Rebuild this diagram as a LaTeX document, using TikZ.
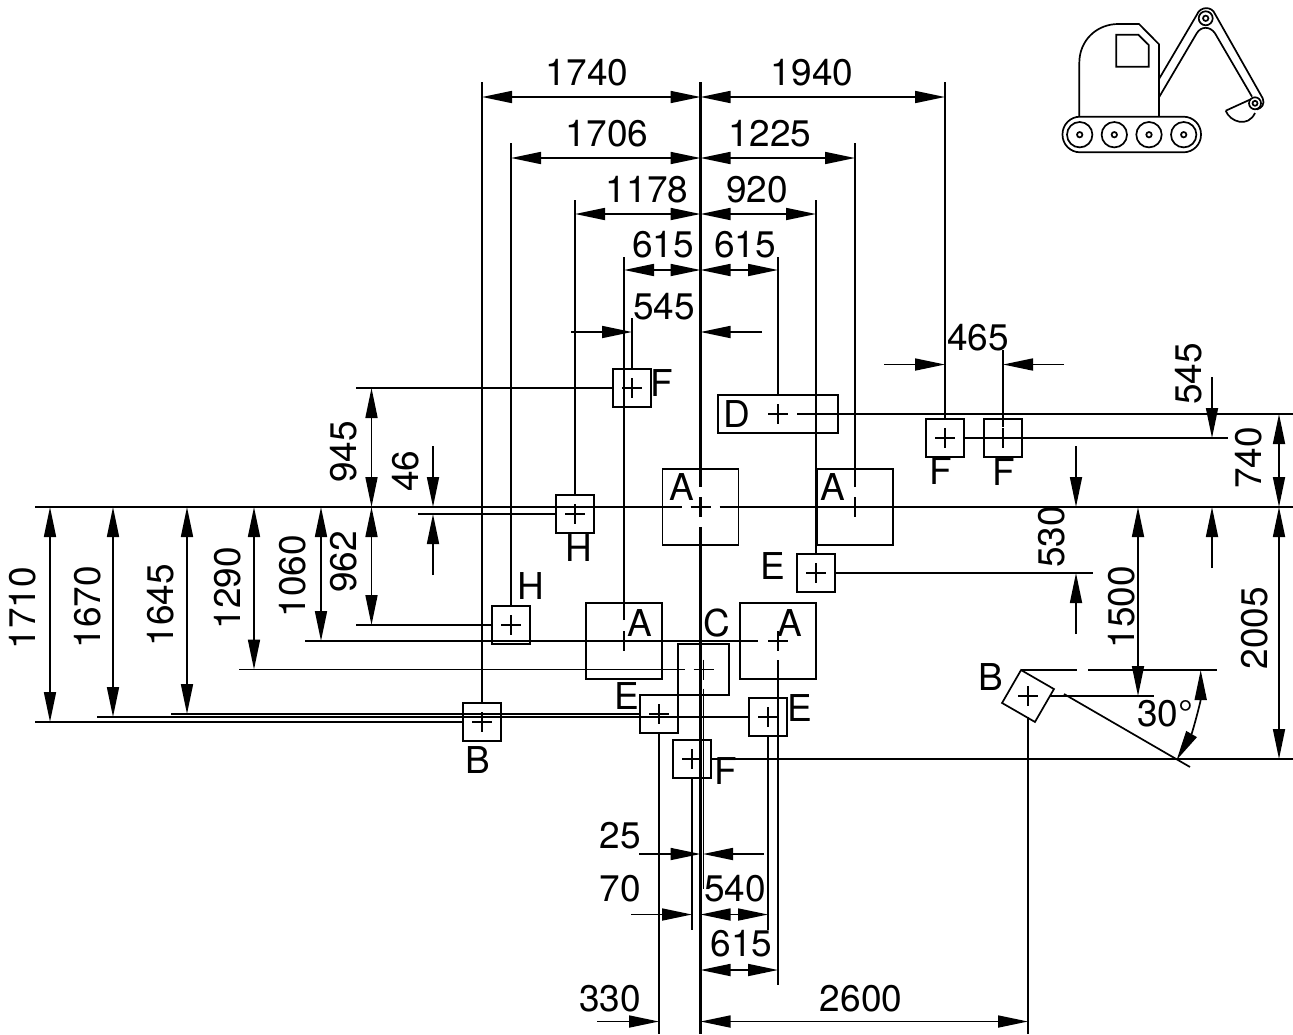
\documentclass[tikz,border=0pt]{standalone}
\usepackage{fontspec}
\setmainfont{TeX Gyre Heros}
\usetikzlibrary{arrows.meta}

\begin{document}
\begin{tikzpicture}[x=1pt, y=-1pt, node distance=0pt, line width=1.7pt]
  \tikzstyle{box} = [rectangle, draw, inner sep=0pt, outer sep=0pt, minimum size=38pt]
  \tikzstyle{marked} = [box, path picture={\draw (path picture bounding box.center) +(-10,0) -- +(10,0) +(0,-10) -- +(0,10);}]
  \tikzstyle{tag} = [inner sep=0pt, font=\fontsize{37}{37}\selectfont]
  \tikzstyle{tagv} = [tag, rotate=90]
  \tikzstyle{main} = [line width=2.8pt]
  \tikzstyle{dim} = [{Triangle[length=30pt,width=12pt]}-{Triangle[length=30pt,width=12pt]}]
  \tikzstyle{lead} = [-{Triangle[length=30pt,width=12pt]}]
\useasboundingbox (0,0) rectangle (1293,1034);
% boxes
\node[box, minimum size=76pt] (aone) at (700.5,507) {};
\node[marked, minimum size=76pt, below of=aone, xshift=154.5](atwo){};
\node[marked, minimum size=76pt, below of=aone, xshift=-76.5, yshift=-134](athree){};
\node[marked, minimum size=76pt, below of=aone, xshift=77.5, yshift=-134](afour){};
\node[marked, minimum size=51pt, below of=aone, xshift=3, yshift=-162.5](cbox){};
\node[marked, minimum width=120pt, below of=aone, xshift=77.5, yshift=93](dbox){};
\node[marked, below of=aone, xshift=115.5, yshift=-66](eone){};
\node[marked, below of=aone, xshift=-41.5, yshift=-207](etwo){};
\node[marked, below of=aone, xshift=67.5, yshift=-210](ethree){};
\node[marked, below of=aone, xshift=-68.5, yshift=119](fone){};
\node[marked, below of=aone, xshift=244.5, yshift=69](ftwo){};
\node[marked, below of=aone, xshift=302.5, yshift=69](fthree){};
\node[marked, below of=aone, xshift=-8.5, yshift=-252](ffour){};
\node[marked, below of=aone, xshift=-125.5, yshift=-7](hone){};
\node[marked, below of=aone, xshift=-189.5, yshift=-118](htwo){};
\node[marked, below of=aone, xshift=-218.5, yshift=-215](bone){};
\node[box, below of=aone, xshift=327.5, yshift=-189, rotate=-30](btwo){};
% box letters
\node[tag, below of=aone, xshift=-19, yshift=20](la1){A};
\node[tag, below of=atwo, xshift=-22, yshift=20](la2){A};
\node[tag, below of=athree, xshift=16, yshift=18](la3){A};
\node[tag, below of=afour, xshift=12, yshift=18](la4){A};
\node[tag, below of=cbox, xshift=13, yshift=46](lc){C};
\node[tag, below of=dbox, xshift=-41](ld){D};
\node[tag, below of=eone, xshift=-43, yshift=7](le1){E};
\node[tag, below of=etwo, xshift=-32, yshift=18](le2){E};
\node[tag, below of=ethree, xshift=32, yshift=9](le3){E};
\node[tag, below of=fone, xshift=30, yshift=4.5](lf1){F};
\node[tag, below of=ftwo, xshift=-4, yshift=-33](lf2){F};
\node[tag, below of=fthree, xshift=1, yshift=-34](lf3){F};
\node[tag, below of=ffour, xshift=34, yshift=-12](lf4){F};
\node[tag, below of=hone, xshift=4, yshift=-34](lh1){H};
\node[tag, below of=htwo, xshift=20, yshift=39](lh2){H};
\node[tag, below of=bone, xshift=-4, yshift=-38](lb1){B};
\node[tag, below of=btwo, xshift=-37, yshift=19](lb2){B};
% free ends of the lines
\coordinate (exta) at (0,82);
\coordinate (extb) at (0,143);
\coordinate (extc) at (0,200);
\coordinate (extd) at (0,257);
\coordinate (exte) at (0,318);
\coordinate (extf) at (0,350);
\coordinate (extg) at (35,0);
\coordinate (exth) at (97,0);
\coordinate (exti) at (171,0);
\coordinate (extj) at (239,0);
\coordinate (extk) at (305,0);
\coordinate (extl) at (356,0);
\coordinate (extm) at (418,0);
\coordinate (edge) at (1293,1034);
% levels of the dimension lines
\coordinate (dima) at (0,97);
\coordinate (dimb) at (0,158);
\coordinate (dimc) at (0,214);
\coordinate (dimd) at (0,270);
\coordinate (dimh) at (0,914.5);
\coordinate (dimi) at (0,970);
\coordinate (dimj) at (0,1021.5);
\coordinate (dimk) at (50,0);
\coordinate (diml) at (113,0);
\coordinate (dimm) at (187,0);
\coordinate (dimn) at (254,0);
\coordinate (dimo) at (321,0);
\coordinate (dimp) at (371.5,0);
\coordinate (dims) at (1138,0);
\coordinate (dimu) at (1279,0);
% centre lines
\draw[main] (aone |- exta) -- ([yshift=20pt]aone.center);
\draw[main] ([yshift=10pt]aone.center) -- ([yshift=-10pt]aone.center);
\draw[main] ([yshift=-20pt]aone.center) -- (aone |- edge);
\draw[main] (extg |- aone) -- ([xshift=-19pt]aone.center);
\draw[main] ([xshift=-10pt]aone.center) -- ([xshift=10pt]aone.center);
\draw[main] ([xshift=19pt]aone.center) -- (edge |- aone);
% lines going up
\draw (bone.north) -- (bone.north |- exta);
\draw (ftwo.north) -- (ftwo.north |- exta);
\draw (htwo.north) -- (htwo.north |- extb);
\draw ([yshift=20pt]atwo.center) -- (atwo.center |- extb);
\draw (hone.north) -- (hone.north |- extc);
\draw (eone.north) -- (eone.north |- extc);
\draw ([yshift=21pt]athree.center) -- (athree.center |- extd);
\draw (dbox.north) -- (dbox.north |- extd);
\draw (fone.north) -- (fone.north |- exte);
\draw ([yshift=11pt]fthree.center) -- (fthree.center |- extf);
% lines going down
\coordinate (ende) at (0,870);
\coordinate (endf) at (0,930);
\coordinate (endg) at (0,985);
\draw ([yshift=-19pt]cbox.center) -- ([yshift=-19pt]cbox.center |- ende);
\draw (ffour.south) -- (ffour.south |- endf);
\draw (ethree.south) -- (ethree.south |- endf);
\draw ([yshift=-19pt]afour.center) -- (afour.center |- endg);
\draw (etwo.south) -- (etwo.south |- edge);
\draw ([yshift=-21pt]btwo.center) -- (btwo.center |- edge);
% lines going left
\draw (extg |- bone) -- (bone.west);
\draw (exth |- ethree) -- (ethree.west);
\draw (exti |- etwo) -- (etwo.west);
\draw (extj |- cbox) -- ([xshift=-19pt]cbox.center);
\draw (extk |- afour) -- ([xshift=-20pt]afour.center);
\draw (extl |- htwo) -- (htwo.west);
\draw (extl |- fone) -- (fone.west);
\draw (extm |- hone) -- (hone.west);
% lines going right
\coordinate (endh) at (1093,0);
\coordinate (endi) at (1228,0);
\draw ([xshift=19pt]dbox.center) -- (edge |- dbox);
\draw (eone.east) -- (endh |- eone);
\draw (ftwo.east) -- (endi |- ftwo);
\draw (ffour.east) -- (edge |- ffour);
% the 30 degree corner
\coordinate (gapa) at (1077,670);
\coordinate (gapb) at (1088,670);
\coordinate (gapc) at (1217,670);
\coordinate (seta) at (1050,696);
\coordinate (setb) at (1154,696);
\coordinate (slanta) at (1064,694);
\coordinate (slantb) at (1190,767);
\coordinate (arca) at (1200.7,670);
\draw (btwo.north west |- gapa) -- (gapa);
\draw (gapb) -- (gapc);
\draw (seta) -- (setb);
\draw (slanta) -- (slantb);
\draw[dim] (arca) arc[start angle=0, end angle=30, radius=180];
\draw ([xshift=-10pt]btwo.center) -- ([xshift=10pt]btwo.center);
\draw ([yshift=-10pt]btwo.center) -- ([yshift=10pt]btwo.center);
% dimensions, top
\draw[dim] (bone |- dima) -- (aone |- dima);
\draw[dim] (aone |- dima) -- (ftwo |- dima);
\draw[dim] (htwo |- dimb) -- (aone |- dimb);
\draw[dim] (aone |- dimb) -- (atwo |- dimb);
\draw[dim] (hone |- dimc) -- (aone |- dimc);
\draw[dim] (aone |- dimc) -- (eone |- dimc);
\draw[dim] (athree |- dimd) -- (aone |- dimd);
\draw[dim] (aone |- dimd) -- (dbox |- dimd);
\coordinate (taila) at (571,332);
\coordinate (tailb) at (762,332);
\coordinate (tailc) at (884,364.5);
\coordinate (taild) at (1064,364.5);
\draw[lead] (taila) -- (fone |- taila);
\draw[lead] (tailb) -- (aone |- tailb);
\draw[lead] (tailc) -- (ftwo |- tailc);
\draw[lead] (taild) -- (fthree |- taild);
% dimensions, left
\draw[dim] (aone -| dimk) -- (bone -| dimk);
\draw[dim] (aone -| diml) -- (ethree -| diml);
\draw[dim] (aone -| dimm) -- (etwo -| dimm);
\draw[dim] (aone -| dimn) -- (cbox -| dimn);
\draw[dim] (aone -| dimo) -- (afour -| dimo);
\draw[dim] (aone -| dimp) -- (htwo -| dimp);
\draw[dim] (aone -| dimp) -- (fone -| dimp);
\coordinate (taile) at (433,446);
\coordinate (tailf) at (433,575);
\draw[lead] (taile) -- (aone -| taile);
\draw[lead] (tailf) -- (hone -| tailf);
% dimensions, right
\coordinate (tailg) at (1076,446);
\coordinate (tailh) at (1076,634);
\coordinate (taili) at (1212,377);
\coordinate (tailj) at (1212,568);
\draw[lead] (tailg) -- (aone -| tailg);
\draw[lead] (tailh) -- (eone -| tailh);
\draw[lead] (taili) -- (ftwo -| taili);
\draw[lead] (tailj) -- (aone -| tailj);
\draw[dim] (aone -| dims) -- (btwo -| dims);
\draw[dim] (dbox -| dimu) -- (aone -| dimu);
\draw[dim] (aone -| dimu) -- (ffour -| dimu);
% dimensions, bottom
\coordinate (tailk) at (639,854);
\coordinate (taill) at (764,854);
\coordinate (tailm) at (631,914.5);
\coordinate (tailn) at (597,1021.5);
\draw[lead] (tailk) -- (aone |- tailk);
\draw[lead] (taill) -- ([xshift=2.5pt]aone |- taill);
\draw[lead] (tailm) -- (ffour |- tailm);
\draw[lead] (tailn) -- (etwo |- tailn);
\draw[dim] (aone |- dimh) -- (ethree |- dimh);
\draw[dim] (aone |- dimi) -- (afour |- dimi);
\draw[dim] (aone |- dimj) -- (btwo |- dimj);
% numbers
\node[tag] (n1740) at (587,73) {1740};
\node[tag] (n1940) at (812,73) {1940};
\node[tag] (n1706) at (607,134) {1706};
\node[tag] (n1225) at (770,134) {1225};
\node[tag] (n1178) at (647,190) {1178};
\node[tag] (n920) at (757,190) {920};
\node[tag] (n615a) at (663,245) {615};
\node[tag] (n615b) at (745,245) {615};
\node[tag] (n545a) at (664,307) {545};
\node[tag] (n465) at (978,338) {465};
\node[tag] (n25) at (620,836) {25};
\node[tag] (n70) at (620,889) {70};
\node[tag] (n540) at (735,889) {540};
\node[tag] (n615c) at (741.5,944) {615};
\node[tag] (n330) at (610,999) {330};
\node[tag] (n2600) at (861,999) {2600};
\node[tag] (n30) at (1165,714) {30°};
\node[tagv] (n1710) at (22.5,608) {1710};
\node[tagv] (n1670) at (88,607) {1670};
\node[tagv] (n1645) at (161,605) {1645};
\node[tagv] (n1290) at (228,588) {1290};
\node[tagv] (n1060) at (293,576) {1060};
\node[tagv] (n962) at (344,562) {962};
\node[tagv] (n945) at (344,452) {945};
\node[tagv] (n46) at (406,471) {46};
\node[tagv] (n545b) at (1189,374) {545};
\node[tagv] (n740) at (1249,458) {740};
\node[tagv] (n530) at (1052,537) {530};
\node[tagv] (n1500) at (1122,607) {1500};
\node[tagv] (n2005) at (1255,628) {2005};
% excavator
\draw[rounded corners=17.5pt] (1062.5,116.7) rectangle (1201,152.3);
\draw (1079.7,134.7) circle[radius=12.7] (1079.7,134.7) circle[radius=2.7];
\draw (1114.3,134.7) circle[radius=12.7] (1114.3,134.7) circle[radius=2.7];
\draw (1149,134.7) circle[radius=12.7] (1149,134.7) circle[radius=2.7];
\draw (1183.7,134.7) circle[radius=12.7] (1183.7,134.7) circle[radius=2.7];
\draw (1079.3,116.7) -- (1079.3,63) .. controls (1079.3,40) and (1097,24) .. (1118.3,24) -- (1139,24) -- (1159,44.3) -- (1159,116.7);
\draw (1116.3,34.7) -- (1138.3,34.7) -- (1148.7,45) -- (1148.7,66.7) -- (1116.3,66.7) -- cycle;
\draw (1159,79) -- (1196.7,15) .. controls (1200,6) and (1212,6) .. (1215,14) -- (1262.7,98.3) .. controls (1265,104) and (1262,108) .. (1256.7,109.5);
\draw (1159,97.3) -- (1196.7,33.3) .. controls (1201,26) and (1210,26) .. (1215,33.3) -- (1252,96.7);
\draw (1205.7,18.3) circle[radius=7] (1205.7,18.3) circle[radius=2.7];
\draw (1255,103.3) circle[radius=6] (1255,103.3) circle[radius=2.5];
\draw (1225.7,110.7) -- (1250.7,99.3);
\draw (1225.7,110.7) .. controls (1230,122) and (1248,128) .. (1255,113);
\end{tikzpicture}
\end{document}
